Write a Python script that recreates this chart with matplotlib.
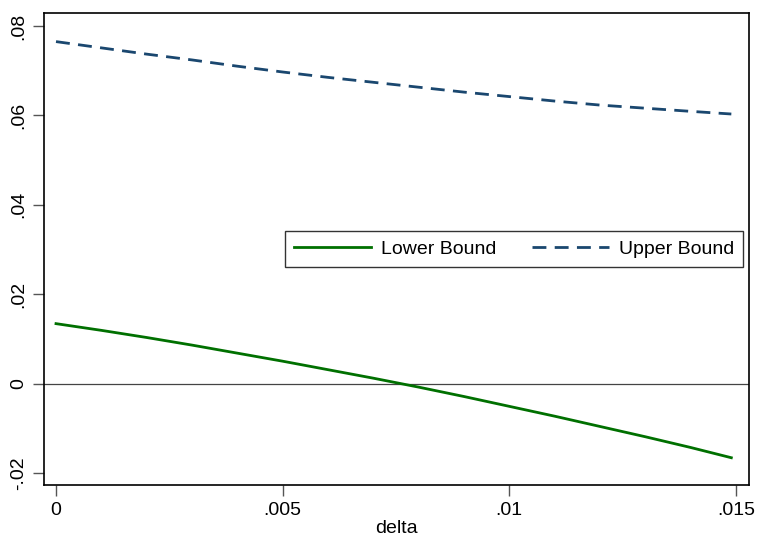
import numpy as np
import matplotlib.pyplot as plt

plt.rcParams['font.family'] = ['Liberation Sans', 'DejaVu Sans']

# values
delta = [0, .001, .002, .003, .004, .005, .006, .007, .008, .009, .010,
         .011, .012, .013, .014, .0149]
lower = [0.0134, 0.0119, 0.0103, 0.0086, 0.0068, 0.0050, 0.0031, 0.0012,
         -0.0008, -0.0029, -0.0051, -0.0073, -0.0096, -0.0119, -0.0143, -0.0166]
upper = [0.0765, 0.0751, 0.0737, 0.0724, 0.0710, 0.0697, 0.0685, 0.0674,
         0.0663, 0.0652, 0.0642, 0.0632, 0.0623, 0.0616, 0.0609, 0.0603]
xticks = [0, .005, .01, .015]
xlabels = ['0', '.005', '.01', '.015']
yticks = [-.02, 0, .02, .04, .06, .08]
ylabels = ['-.02', '0', '.02', '.04', '.06', '.08']

fig = plt.figure(figsize=(7.6, 5.37), dpi=100)
ax = fig.add_axes([44 / 760, 52 / 537, 705 / 760, 472 / 537])

ax.axhline(0, color='#444444', lw=0.9, zorder=1)
ax.plot(delta, lower, color='#007000', lw=2, label='Lower Bound')
ax.plot(delta, upper, color='#1a476f', lw=2, dashes=(5, 3), label='Upper Bound')

ax.set_xlim(-0.000265, 0.01529)
ax.set_ylim(-0.0227, 0.0829)
ax.set_xticks(xticks)
ax.set_xticklabels(xlabels, fontsize=14)
ax.set_yticks(yticks)
ax.set_yticklabels(ylabels, fontsize=14, rotation=90, va='center')
ax.tick_params(direction='out', length=8, width=1, color='#555555', pad=4)
ax.set_xlabel('delta', fontsize=14, labelpad=1)
for s in ax.spines.values():
    s.set_linewidth(1.2)

leg = ax.legend(loc='center right', bbox_to_anchor=(0.9915, 0.5), ncol=2,
                fontsize=14, frameon=True, fancybox=False, edgecolor='black',
                handlelength=4.0, handletextpad=0.5, columnspacing=1.8,
                borderpad=0.45, borderaxespad=0)
leg.get_frame().set_linewidth(1)

fig.savefig('out.png', dpi=100)
